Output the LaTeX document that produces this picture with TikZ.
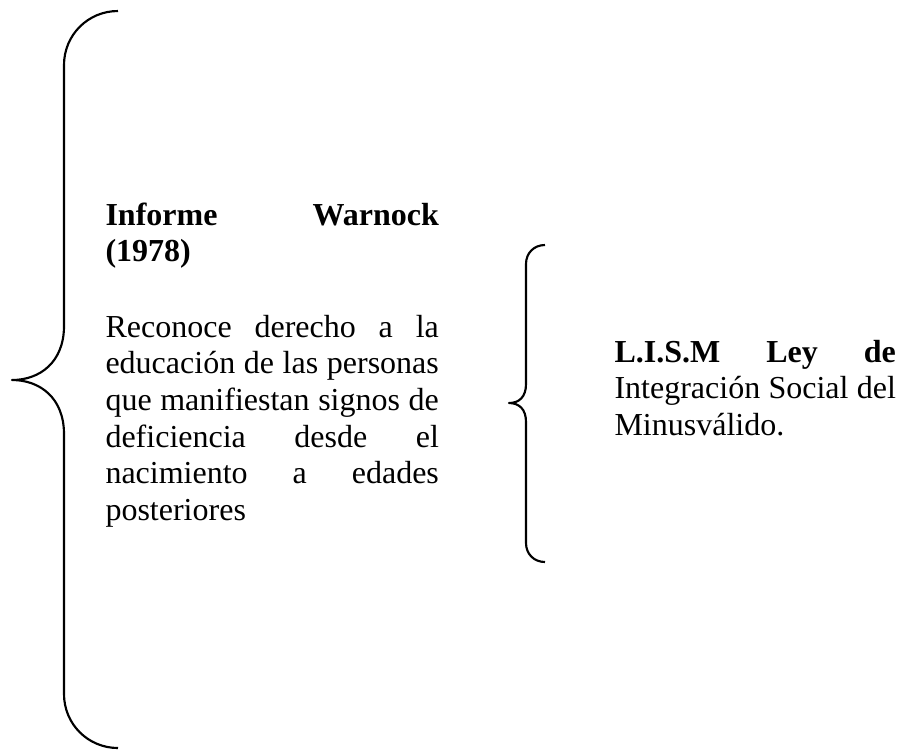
\documentclass[tikz,border=0pt]{standalone}
\usepackage{fontspec}
\setmainfont{Liberation Serif}
\usetikzlibrary{positioning}
\tikzset{
  every picture/.style={x=0.375pt, y=-0.375pt},
  brace/.style={draw=black, line width=0.8pt, line join=round},
  para/.style={anchor=base west, inner sep=0pt, align=justify, font=\fontsize{12}{13.76}\selectfont},
}

\begin{document}
\begin{tikzpicture}
  \useasboundingbox (0,0) rectangle (909,749);
  % left brace, long one
  \draw[brace] (118,11) .. controls (88,11) and (64,35) .. (64,65) -- (64,326)
    .. controls (64,362) and (40,380) .. (12,380)
    .. controls (40,380) and (64,398) .. (64,434) -- (64,694)
    .. controls (64,724) and (88,748) .. (118,748);
  % right brace, short one
  \draw[brace] (545,245) .. controls (534,245) and (526,253) .. (526,264) -- (526,384)
    .. controls (526,397) and (519,403) .. (509,403)
    .. controls (519,403) and (526,409) .. (526,422) -- (526,543)
    .. controls (526,554) and (534,562) .. (545,562);
  % texts
  \node[para, text width=125pt] (warnock) at (105,225) {\textbf{Informe Warnock\linebreak (1978)}};
  \node[para, text width=125pt] (reconoce) at (105,337) {Reconoce derecho a la\linebreak
    educación de las personas\linebreak que manifiestan signos de\linebreak
    deficiencia desde el\linebreak nacimiento a edades\linebreak posteriores};
  \node[para, text width=105.5pt] (lism) at (614,362) {\textbf{L.I.S.M Ley de}\linebreak
    Integración Social del\linebreak Minusválido.};
\end{tikzpicture}
\end{document}
